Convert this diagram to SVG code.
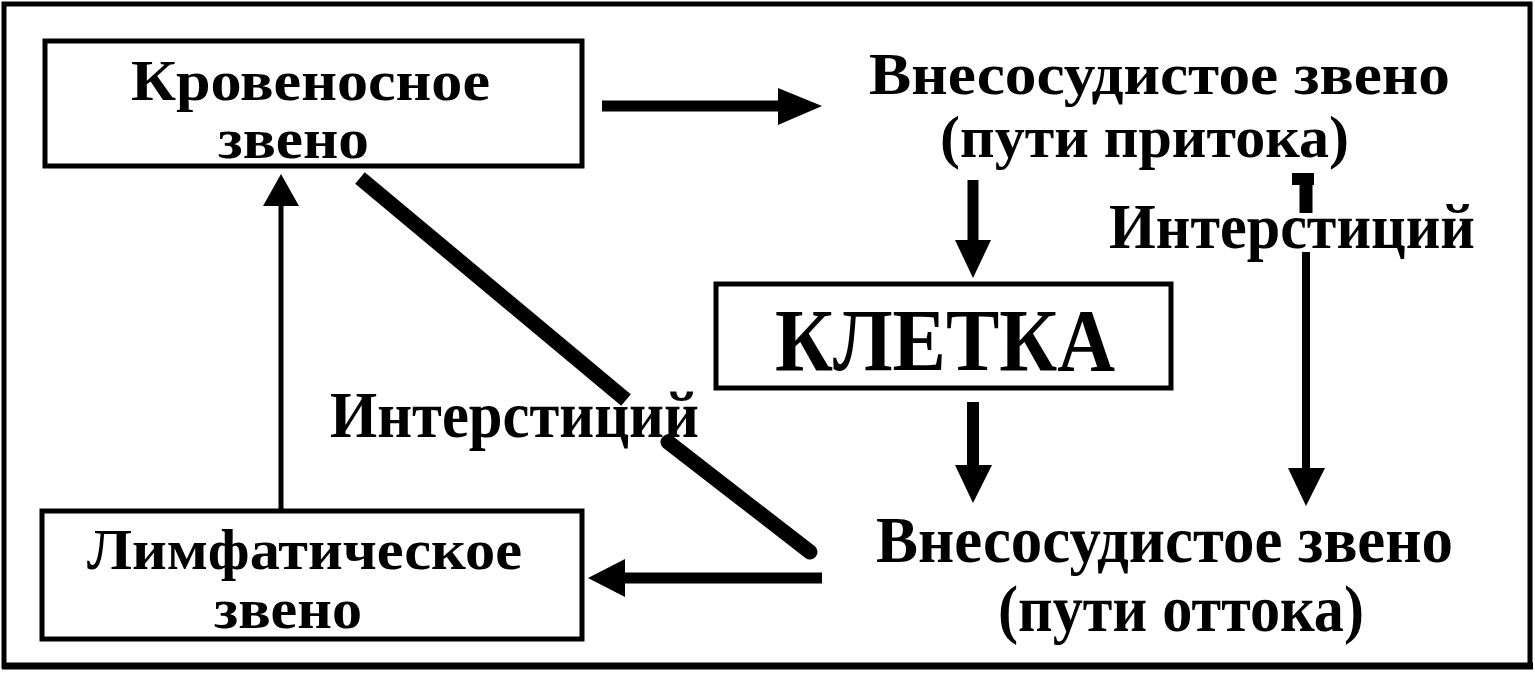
<svg xmlns="http://www.w3.org/2000/svg" width="1535" height="677" viewBox="0 0 1535 677">
<style>
.t{font-family:"Liberation Serif","Times New Roman",serif;font-weight:bold;fill:#000}
.box{fill:#fff;stroke:#000;stroke-width:5}
.ln{stroke:#000;fill:none}
.ah{fill:#000;stroke:none}
</style>
<rect x="0" y="0" width="1535" height="677" fill="#fff"/>
<rect x="4" y="4" width="1526" height="662" fill="none" stroke="#000" stroke-width="5"/>
<line x1="2" y1="666" x2="1533" y2="666" stroke="#000" stroke-width="7"/>

<g id="krovenosnoe">
<rect class="box" x="45" y="41" width="537" height="125"/>
<text class="t" x="131" y="100" font-size="56" textLength="359" lengthAdjust="spacingAndGlyphs">Кровеносное</text>
<text class="t" x="218" y="158" font-size="56" textLength="151" lengthAdjust="spacingAndGlyphs">звено</text>
</g>

<g id="vnesosud-pritok">
<text class="t" x="869" y="94" font-size="60" textLength="581" lengthAdjust="spacingAndGlyphs">Внесосудистое звено</text>
<text class="t" x="940" y="157" font-size="60" textLength="409" lengthAdjust="spacingAndGlyphs">(пути притока)</text>
</g>

<g id="kletka">
<rect class="box" x="716" y="284" width="455" height="104" stroke-width="6"/>
<text class="t" x="775" y="370" font-size="88" textLength="340" lengthAdjust="spacingAndGlyphs">КЛЕТКА</text>
</g>

<g id="vnesosud-ottok">
<text class="t" x="876" y="562" font-size="66" textLength="577" lengthAdjust="spacingAndGlyphs">Внесосудистое звено</text>
<text class="t" x="998" y="631" font-size="66" textLength="366" lengthAdjust="spacingAndGlyphs">(пути оттока)</text>
</g>

<g id="limfaticheskoe">
<rect class="box" x="42" y="511" width="540" height="128"/>
<text class="t" x="87" y="569" font-size="56" textLength="435" lengthAdjust="spacingAndGlyphs">Лимфатическое</text>
<text class="t" x="214" y="628" font-size="56" textLength="148" lengthAdjust="spacingAndGlyphs">звено</text>
</g>

<g id="connectors">
<!-- Кровеносное -> Внесосудистое (притока) -->
<line class="ln" x1="602" y1="106" x2="782" y2="106" stroke-width="11"/>
<polygon class="ah" points="778,88 822,106 778,125"/>
<!-- притока -> КЛЕТКА -->
<line class="ln" x1="973" y1="180" x2="973" y2="244" stroke-width="11"/>
<polygon class="ah" points="955,240 991,240 973,278"/>
<!-- КЛЕТКА -> оттока -->
<line class="ln" x1="973" y1="402" x2="973" y2="468" stroke-width="12"/>
<polygon class="ah" points="955,465 992,465 973,503"/>
<!-- притока -> оттока (Интерстиций) -->
<rect class="ah" x="1292" y="173" width="22" height="12"/>
<line class="ln" x1="1306" y1="173" x2="1306" y2="213" stroke-width="13"/>
<line class="ln" x1="1306" y1="252" x2="1306" y2="472" stroke-width="8"/>
<polygon class="ah" points="1288,468 1325,468 1306,506"/>
<!-- оттока -> Лимфатическое -->
<line class="ln" x1="822" y1="578" x2="620" y2="578" stroke-width="11"/>
<polygon class="ah" points="625,559 588,578 625,597"/>
<!-- Лимфатическое -> Кровеносное -->
<line class="ln" x1="281" y1="511" x2="281" y2="200" stroke-width="5"/>
<polygon class="ah" points="263,206 299,206 281,174"/>
<!-- оттока -> Кровеносное (Интерстиций) -->
<line class="ln" x1="360" y1="178" x2="626" y2="400" stroke-width="15"/>
<line class="ln" x1="668" y1="442" x2="810" y2="552" stroke-width="15" stroke-linecap="round"/>
<text class="t" x="1109" y="248" font-size="64" textLength="366" lengthAdjust="spacingAndGlyphs">Интерстиций</text>
<text class="t" x="330" y="437" font-size="66" textLength="369" lengthAdjust="spacingAndGlyphs">Интерстиций</text>
</g>
</svg>
